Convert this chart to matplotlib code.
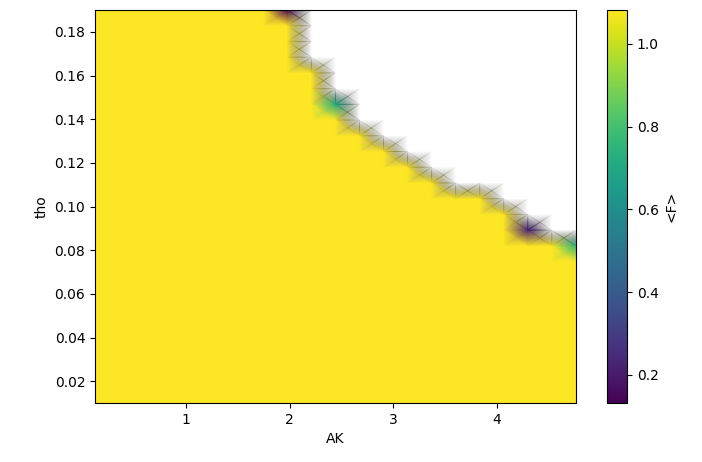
"""<F> map over (AK, tho), gouraud shaded, NaN above the stability edge."""

import matplotlib
matplotlib.use("Agg")
import matplotlib.pyplot as plt
import numpy as np

# grid
AK = [0.12, 0.352, 0.584, 0.816, 1.048, 1.28, 1.512, 1.744, 1.976, 2.208,
      2.44, 2.672, 2.904, 3.136, 3.368, 3.6, 3.832, 4.064, 4.296, 4.528, 4.76]
THO = [0.01, 0.0172, 0.0244, 0.0316, 0.0388, 0.046, 0.0532, 0.0604, 0.0676,
       0.0748, 0.082, 0.0892, 0.0964, 0.1036, 0.1108, 0.118, 0.1252, 0.1324,
       0.1396, 0.1468, 0.154, 0.1612, 0.1684, 0.1756, 0.1828, 0.19]

# highest tho row with a finite <F> in each AK column
TOP_ROW = [25, 25, 25, 25, 25, 25, 25, 25, 25, 21,
           19, 17, 16, 15, 14, 13, 13, 12, 11, 10, 10]
F_BULK = 1.08

# low <F> points sitting on the edge: (column, row, value)
LOW_PTS = [(8, 25, 0.135), (10, 19, 0.72), (18, 11, 0.22), (20, 10, 0.75)]

VMIN, VMAX = 0.132, 1.082

Z = np.full((len(THO), len(AK)), np.nan)
for i, top in enumerate(TOP_ROW):
    Z[: top + 1, i] = F_BULK
for i, j, v in LOW_PTS:
    Z[j, i] = v

# old matplotlib painted NaN corners as transparent black and still shaded
# the quad; mimic that with an "under" colour of (0,0,0,0)
cmap = plt.get_cmap("viridis").copy()
cmap.set_under((0, 0, 0, 0))
Zdraw = np.where(np.isnan(Z), VMIN - 1.0, Z)

fig = plt.figure(figsize=(7.02, 4.62), dpi=100)
ax = fig.add_axes([0.1353, 0.1277, 0.685, 0.8506])
cax = fig.add_axes([0.8647, 0.1277, 0.0285, 0.8506])

mesh = ax.pcolormesh(AK, THO, Zdraw, shading="gouraud", cmap=cmap,
                     vmin=VMIN, vmax=VMAX)
ax.set_xlabel("AK")
ax.set_ylabel("tho")
ax.set_yticks([0.02, 0.04, 0.06, 0.08, 0.10, 0.12, 0.14, 0.16, 0.18])

cb = fig.colorbar(mesh, cax=cax, extend="neither")
cb.set_label("<F>")

fig.savefig("out.png", dpi=100)
